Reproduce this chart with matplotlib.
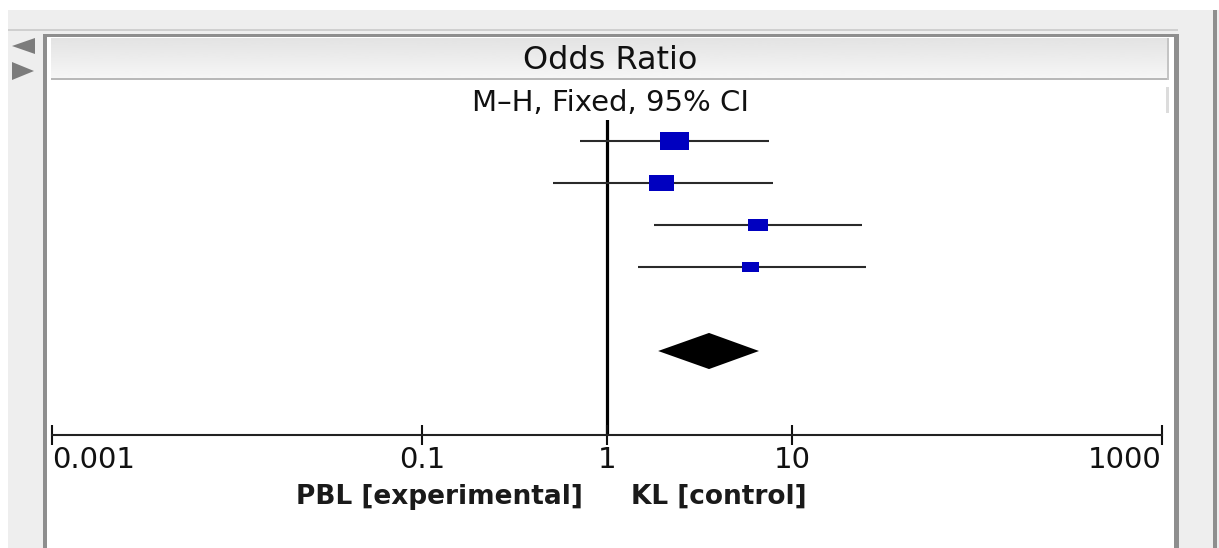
import numpy as np
import matplotlib
matplotlib.use('Agg')
from matplotlib import pyplot as plt
from matplotlib.path import Path
from matplotlib.markers import MarkerStyle
from matplotlib.patches import Rectangle, Polygon

# per-study odds ratios with 95% CI and weight (%)
odds_ratio = [2.33, 1.98, 6.55, 6.00]
ci_low = [0.715, 0.51, 1.80, 1.47]
ci_high = [7.5, 7.9, 23.9, 25.1]
weight = [39.2, 29.3, 18.0, 13.5]

# pooled estimate (diamond)
total_or = 3.56
total_low = 1.89
total_high = 6.63

ticks = [0.001, 0.1, 1, 10, 1000]
tick_labels = ['0.001', '0.1', '1', '10', '1000']
title = 'Odds Ratio'
subtitle = 'M\u2013H, Fixed, 95% CI'
left_label = 'PBL [experimental]'
right_label = 'KL [control]'

W, H = 1219, 548
fig = plt.figure(figsize=(W / 100, H / 100), dpi=100)
fig.patch.set_facecolor('white')

# panel frame, drawn in pixel coordinates
bg = fig.add_axes([0, 0, 1, 1], zorder=0)
bg.axis('off')
bg.add_patch(Rectangle((8, 10), W - 8, H - 10, color='#eeeeee', lw=0))
bg.add_patch(Rectangle((8, 29), 1170, 2, color='#cfcfcf', lw=0))
bg.add_patch(Rectangle((43, 34), 1136, H - 34, color='#8e8e8e', lw=0))
bg.add_patch(Rectangle((47, 37), 1127, H - 37, color='white', lw=0))
bg.add_patch(Rectangle((1213, 10), 4, H - 10, color='#8e8e8e', lw=0))
grad = np.linspace(0.89, 0.965, 60).reshape(-1, 1)
bg.imshow(grad, cmap='gray', vmin=0, vmax=1, extent=(51, 1169, 79, 38),
          aspect='auto', interpolation='bilinear', zorder=2)
bg.add_patch(Rectangle((51, 78), 1118, 2, color='#b8b8b8', lw=0, zorder=3))
bg.add_patch(Rectangle((1167, 38), 2, 42, color='#c4c4c4', lw=0, zorder=3))
bg.add_patch(Rectangle((1166, 87), 3, 26, color='#dcdcdc', lw=0))
bg.add_patch(Polygon([(12, 46), (35, 38), (35, 54)], color='#7c7c7c', lw=0))
bg.add_patch(Polygon([(12, 62), (12, 80), (34, 71)], color='#7c7c7c', lw=0))
bg.set_xlim(0, W)
bg.set_ylim(H, 0)

bg.text(610, 69, title, ha='center', va='baseline', fontsize=23, color='#111111', zorder=4)
bg.text(610, 111, subtitle, ha='center', va='baseline', fontsize=21, color='#111111', zorder=4)

# forest plot
ax = fig.add_axes([52 / W, (H - 435) / H, 1110 / W, 315 / H], zorder=1)
ax.set_facecolor('none')
ax.set_xscale('log')
ax.set_xlim(ticks[0], ticks[-1])
ax.set_ylim(7, -0.5)
for side in ['top', 'left', 'right']:
    ax.spines[side].set_visible(False)
ax.spines['bottom'].set_linewidth(1.5)
ax.spines['bottom'].set_color('#222222')
ax.set_yticks([])
ax.set_xticks(ticks, tick_labels)
ax.minorticks_off()
ax.tick_params(axis='x', direction='inout', length=14.4, width=1.5, color='#111111',
               pad=1.0, labelsize=21, labelcolor='#111111')
labels = ax.get_xticklabels()
labels[0].set_ha('left')
labels[-1].set_ha('right')

ax.axvline(1, color='black', lw=2.3, zorder=1.5)

rows = np.arange(len(odds_ratio))
ax.hlines(rows, ci_low, ci_high, color='#2a2a2a', lw=1.5, zorder=2)

box = MarkerStyle(Path([(-1, -0.6), (1, -0.6), (1, 0.6), (-1, 0.6), (-1, -0.6)], closed=True))
ax.scatter(odds_ratio, rows, s=11.1 * np.array(weight), marker=box,
           color='#0000c0', linewidths=0, zorder=3)

total_row = len(odds_ratio) + 1
ax.fill([total_low, total_or, total_high, total_or],
        [total_row, total_row - 0.43, total_row, total_row + 0.43],
        color='black', lw=0, zorder=3)

ax.annotate(left_label, xy=(1, 0), xycoords=('data', 'axes fraction'),
            xytext=(-24, -69), textcoords='offset pixels', fontweight='bold',
            ha='right', va='baseline', fontsize=19, color='#1a1a1a')
ax.annotate(right_label, xy=(1, 0), xycoords=('data', 'axes fraction'),
            xytext=(24, -69), textcoords='offset pixels', fontweight='bold',
            ha='left', va='baseline', fontsize=19, color='#1a1a1a')

fig.savefig('out.png', dpi=100)
